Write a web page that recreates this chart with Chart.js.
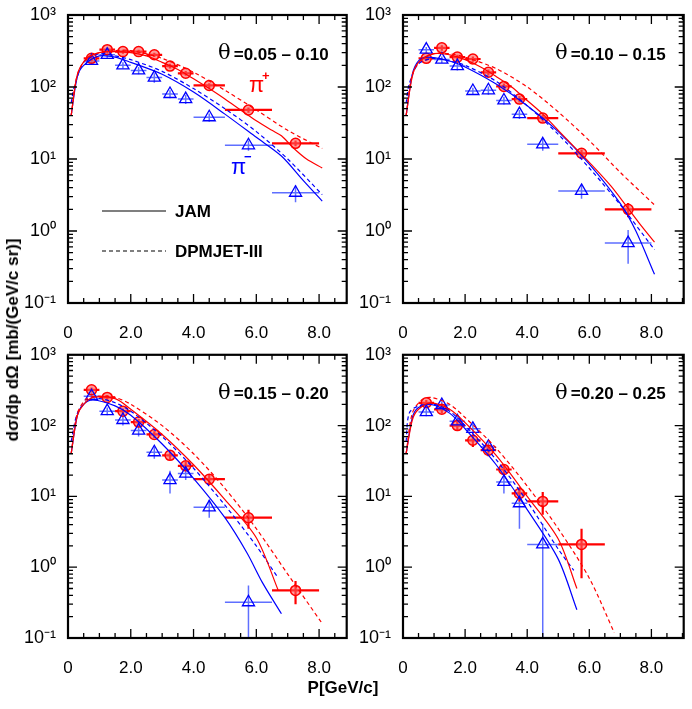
<!DOCTYPE html>
<html><head><meta charset="utf-8">
<script src="https://cdn.jsdelivr.net/npm/chart.js@4"></script>
<style>
body{margin:0;background:#fff;width:692px;height:709px;position:relative;overflow:hidden;font-family:"Liberation Sans",Arial,sans-serif}
canvas{position:absolute}
.t{position:absolute;font-weight:bold;color:#000;white-space:nowrap}
</style></head><body>
<canvas id="c0" style="left:0;top:0" width="355" height="340"></canvas>
<canvas id="c1" style="left:340px;top:0" width="352" height="340"></canvas>
<canvas id="c2" style="left:0;top:340px" width="355" height="340"></canvas>
<canvas id="c3" style="left:340px;top:340px" width="352" height="340"></canvas>
<div class="t" style="left:343px;top:688px;transform:translate(-50%,-50%);font-size:17px">P[GeV/c]</div>
<div class="t" style="left:13px;top:340px;transform:translate(-50%,-50%) rotate(-90deg);font-size:17px">dσ/dp dΩ [mb/(GeV/c sr)]</div>
<script>
// ---- data ----
const binCenters = [0.75,1.25,1.75,2.25,2.75,3.25,3.75,4.5,5.75,7.25];
const binLo      = [0.5,1.0,1.5,2.0,2.5,3.0,3.5,4.0,5.0,6.5];
const binHi      = [1.0,1.5,2.0,2.5,3.0,3.5,4.0,5.0,6.5,8.0];
const thetaRanges = ["=0.05 – 0.10","=0.10 – 0.15","=0.15 – 0.20","=0.20 – 0.25"];
const yTickLabels = {"-1":"10⁻¹","0":"10⁰","1":"10¹","2":"10²","3":"10³"};
const xTickLabels = {"0":"0","2":"2.0","4":"4.0","6":"6.0","8":"8.0"};

const piPlus = [
 [250,330,310,310,280,195,155,105,48,16.5],
 [250,350,260,245,160,102,68,37,12,2.0],
 [320,250,160,112,75,38,27,17.5,5.0,0.47],
 [210,170,100,62,45,24,11,8.5,2.1]
];
const piPlusErrLo = [
 [20,25,20,20,20,15,12,8,4,1.5],
 [20,30,20,20,15,10,7,4,1.5,0.45],
 [25,20,15,12,8,5,4,3,1.5,0.17],
 [20,20,15,12,8,4,2.5,3,1.4]
];
const piPlusErrHi = piPlusErrLo;
const piMinus = [
 [230,280,200,170,135,80,68,38,15.5,3.4],
 [330,240,195,88,90,65,42,16,3.6,0.68],
 [260,160,120,85,42,17,21,7,0.32],
 [155,195,115,90,50,16,8,2.1]
];
const piMinusErrLo = [
 [25,30,20,20,20,10,10,5,2.5,0.9],
 [30,25,25,10,12,8,6,3,0.8,0.33],
 [30,20,20,15,8,6,4,2,0.22],
 [20,25,20,15,8,5,4.5,2.0]
];
const piMinusErrHi = [
 [25,30,20,20,20,10,10,5,2.5,0.9],
 [30,25,25,10,12,8,6,3,0.8,0.35],
 [30,20,20,15,8,6,4,2,0.23],
 [20,25,20,15,8,5,4.5,2.0]
];

// model curves: [x, y] pairs
const jamPlus = [
 [[0.1,40],[0.3,150],[0.6,250],[1,300],[1.5,310],[2,300],[2.5,270],[3,220],[3.5,175],[4,130],[4.5,95],[5,68],[5.5,48],[6,34],[6.5,25],[6.8,21],[7.2,14],[7.6,10],[8.1,7.5]],
 [[0.1,40],[0.3,140],[0.5,220],[1,290],[1.5,280],[2,240],[2.5,190],[3,140],[3.5,100],[4,65],[4.5,42],[5,25],[5.5,15],[6,9],[6.7,4.2],[7.2,2.2],[7.6,1.3],[8.1,0.7]],
 [[0.1,40],[0.3,140],[0.5,200],[0.8,250],[1.5,240],[2,170],[3,75],[4,28],[5,9],[6,2.6],[6.7,0.47]],
 [[0.1,40],[0.3,120],[0.5,170],[0.9,210],[1.5,170],[2,110],[3,38],[4,10],[5,2.5],[5.6,0.5]]
];
const dpmPlus = [
 [[0.1,40],[0.3,150],[0.6,250],[1,300],[1.5,320],[2,320],[3,250],[4,160],[5,90],[6,48],[7,25],[8.1,14]],
 [[0.1,40],[0.3,150],[0.6,240],[1,290],[1.5,290],[2,260],[3,180],[4,100],[5,45],[6,18],[7,6.5],[8.1,2.3]],
 [[0.1,40],[0.3,150],[0.6,240],[1,260],[1.5,250],[2,200],[3,100],[4,40],[5,13],[6,3.5],[7,0.8],[8.1,0.16]],
 [[0.1,40],[0.3,150],[0.6,230],[0.9,250],[1.5,200],[2,130],[3,48],[4,14],[5,3.5],[6,0.7],[6.8,0.12]]
];
const jamMinus = [
 [[0.1,40],[0.3,140],[0.5,200],[1,270],[1.5,260],[2,220],[3,150],[4,85],[5,42],[6,20],[6.8,11],[7.5,5],[8.1,2.6]],
 [[0.1,40],[0.3,150],[0.5,230],[0.8,260],[1.5,230],[2,190],[3,110],[4,55],[5,24],[6,8.5],[7,2.4],[7.5,1.0],[8.1,0.25]],
 [[0.1,40],[0.3,140],[0.5,200],[0.8,230],[1.5,190],[2,140],[3,55],[4,18],[5,5],[5.7,1.6],[6.2,0.6],[6.8,0.22]],
 [[0.1,40],[0.3,130],[0.5,180],[0.9,200],[1.5,150],[2,90],[3,28],[4,6.5],[5,1.3],[5.6,0.25]]
];
const dpmMinus = [
 [[0.1,60],[0.2,100],[0.5,220],[1,290],[1.5,270],[2,240],[3,165],[4,95],[5,50],[6,24],[7,10],[8.1,3.2]],
 [[0.1,60],[0.2,110],[0.5,210],[1,250],[1.5,230],[2,200],[3,120],[4,55],[5,22],[6,7.5],[7,2.3],[8.1,0.55]],
 [[0.1,60],[0.3,150],[0.6,220],[1,240],[1.5,210],[2,160],[3,70],[4,25],[5,7.5],[6,2],[6.7,0.7]],
 [[0.1,60],[0.2,150],[0.5,190],[1,200],[1.5,160],[2,100],[3,33],[4,8.5],[5,1.8],[5.5,0.9]]
];

const RED='#ff0000', BLUE='#0000ff';
const layouts = [
 {yw:68, xmax:8.88, pad:{left:0,top:15,right:5,bottom:0}, xh:37},
 {yw:63, xmax:9.04, pad:{left:0,top:15,right:2,bottom:0}, xh:37},
 {yw:68, xmax:8.88, pad:{left:0,top:12,right:5,bottom:0}, xh:42},
 {yw:63, xmax:9.04, pad:{left:0,top:12,right:2,bottom:0}, xh:42}
];

const framePlugin = {
 id:'frame',
 beforeDatasetsDraw(chart){
  const ctx=chart.ctx, xs=chart.scales.x, ys=chart.scales.y;
  chart.data.datasets.forEach((ds)=>{
   if(!ds.err) return;
   ctx.save();
   ctx.beginPath(); ctx.rect(chart.chartArea.left,chart.chartArea.top,chart.chartArea.width,chart.chartArea.height); ctx.clip();
   ctx.strokeStyle=ds.errColor; ctx.lineWidth=ds.errWidth;
   ds.data.forEach((p,j)=>{
    const px=xs.getPixelForValue(p.x), py=ys.getPixelForValue(p.y);
    ctx.beginPath();
    ctx.moveTo(xs.getPixelForValue(binLo[j]),py); ctx.lineTo(xs.getPixelForValue(binHi[j]),py);
    ctx.moveTo(px,ys.getPixelForValue(Math.max(p.y-ds.err.lo[j],0.09))); ctx.lineTo(px,ys.getPixelForValue(p.y+ds.err.hi[j]));
    ctx.stroke();
   });
   ctx.restore();
  });
 },
 afterDraw(chart){
  const ctx=chart.ctx, a=chart.chartArea, xs=chart.scales.x, ys=chart.scales.y;
  ctx.save();
  ctx.strokeStyle='#000'; ctx.lineWidth=1.3;
  ctx.beginPath();
  for(let v=0; v<=xs.max+1e-6; v+=0.5){
   const px=xs.getPixelForValue(v); const L=(Math.abs(v%2)<1e-6)?9:5;
   ctx.moveTo(px,a.bottom); ctx.lineTo(px,a.bottom-L);
   ctx.moveTo(px,a.top); ctx.lineTo(px,a.top+L);
  }
  for(let d=-1; d<3; d++){
   for(let m=1;m<10;m++){
    const v=m*Math.pow(10,d); const py=ys.getPixelForValue(v); const L=m===1?9:5;
    ctx.moveTo(a.left,py); ctx.lineTo(a.left+L,py);
    ctx.moveTo(a.right,py); ctx.lineTo(a.right-L,py);
   }
  }
  ctx.stroke();
  ctx.lineWidth=2.2;
  ctx.strokeRect(a.left,a.top,a.right-a.left,a.bottom-a.top);
  const k=chart.options.panelIndex;
  ctx.fillStyle='#000'; ctx.font='bold 17px "Liberation Sans", Arial, sans-serif';
  ctx.textAlign='right'; ctx.textBaseline='middle';
  const rx=a.right-18, ty=a.top+40;
  ctx.fillText(thetaRanges[k], rx, ty);
  const w=ctx.measureText(thetaRanges[k]).width;
  ctx.font='21px "DejaVu Serif", serif';
  ctx.fillText('θ', rx-w-3, ty-1);
  if(k===0){
   ctx.textAlign='left';
   ctx.font='22px "Liberation Sans", Arial'; ctx.fillStyle=RED; ctx.fillText('π', 249, 86);
   ctx.font='bold 13px "Liberation Sans", Arial'; ctx.fillText('+',262,76);
   ctx.font='22px "Liberation Sans", Arial'; ctx.fillStyle=BLUE; ctx.fillText('π', 231, 168);
   ctx.font='bold 13px "Liberation Sans", Arial'; ctx.fillText('−',244,157);
   ctx.strokeStyle='#000'; ctx.lineWidth=1.2;
   ctx.beginPath(); ctx.moveTo(102,211); ctx.lineTo(166,211); ctx.stroke();
   ctx.setLineDash([4,3]); ctx.beginPath(); ctx.moveTo(102,251); ctx.lineTo(166,251); ctx.stroke(); ctx.setLineDash([]);
   ctx.fillStyle='#000'; ctx.font='bold 17px "Liberation Sans", Arial';
   ctx.fillText('JAM',175,212); ctx.fillText('DPMJET-III',175,252);
  }
  ctx.restore();
 }
};

function pts(arr){return arr.map(p=>({x:p[0],y:p[1]}));}
function dataPts(vals){return vals.map((v,j)=>({x:binCenters[j],y:v}));}

for(let k=0;k<4;k++){
 const L=layouts[k];
 const lineDs=(d,c,dash)=>({type:'line',data:pts(d),borderColor:c,borderWidth:1.2,borderDash:dash,pointRadius:0,tension:0.3,fill:false});
 new Chart(document.getElementById('c'+k),{
  data:{datasets:[
   lineDs(jamPlus[k],RED,[]), lineDs(dpmPlus[k],RED,[4,3]),
   lineDs(jamMinus[k],BLUE,[]), lineDs(dpmMinus[k],BLUE,[4,3]),
   {type:'scatter',data:dataPts(piMinus[k]),pointStyle:'triangle',radius:7,borderColor:BLUE,backgroundColor:'rgba(0,0,0,0)',borderWidth:1.3,
    err:{lo:piMinusErrLo[k],hi:piMinusErrHi[k]},errColor:'#5f6fff',errWidth:1.5},
   {type:'scatter',data:dataPts(piPlus[k]),pointStyle:'circle',radius:5,borderColor:RED,backgroundColor:'rgba(255,90,90,0.6)',borderWidth:1.5,
    err:{lo:piPlusErrLo[k],hi:piPlusErrHi[k]},errColor:RED,errWidth:2.2}
  ]},
  options:{
   panelIndex:k, responsive:false, animation:false, events:[],
   layout:{padding:L.pad},
   plugins:{legend:{display:false},tooltip:{enabled:false}},
   scales:{
    x:{type:'linear',min:0,max:L.xmax,grid:{display:false},border:{display:false},
       afterBuildTicks:s=>{s.ticks=[0,2,4,6,8].map(v=>({value:v}));},
       afterFit:s=>{s.height=L.xh;},
       ticks:{autoSkip:false,maxRotation:0,padding:12,color:'#000',font:{size:17,family:'"Liberation Sans", Arial'},callback:v=>xTickLabels[String(v)]||''}},
    y:{type:'logarithmic',min:0.1,max:1000,grid:{display:false},border:{display:false},
       afterBuildTicks:s=>{s.ticks=[0.1,1,10,100,1000].map(v=>({value:v}));},
       afterFit:s=>{s.width=L.yw;},
       ticks:{autoSkip:false,padding:4,color:'#000',font:{size:18,family:'"Liberation Sans", Arial'},callback:v=>yTickLabels[String(Math.round(Math.log10(v)))]}}
   }
  },
  plugins:[framePlugin]
 });
}
</script></body></html>
